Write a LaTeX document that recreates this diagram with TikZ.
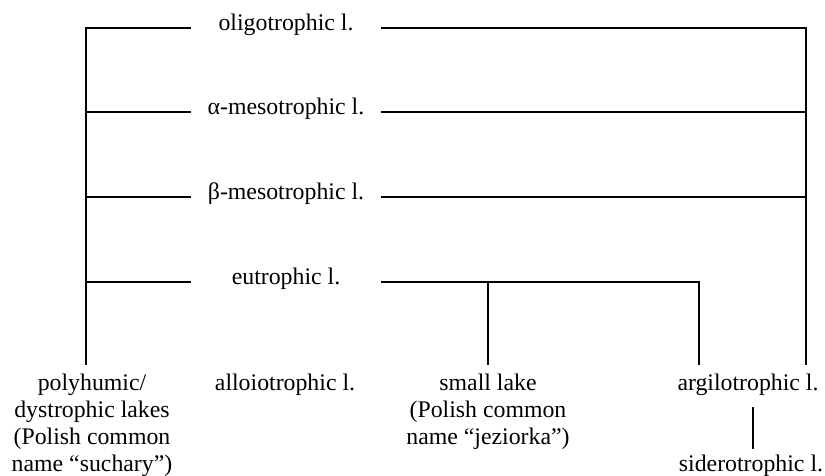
\documentclass[tikz,border=0pt]{standalone}
\usepackage{fontspec}
\setmainfont{Liberation Serif}
\tikzset{
  lbl/.style={inner sep=0pt, anchor=base, font=\fontsize{23.8}{27}\selectfont, align=center},
  ln/.style={line width=2pt, line cap=rect}
}
\begin{document}
\begin{tikzpicture}[x=1pt,y=-1pt]
\useasboundingbox (0,0) rectangle (825,475);
% text nodes
\node[lbl] (oligo) at (286,30) {oligotrophic l.};
\node[lbl] (alpha) at (286,114) {α-mesotrophic l.};
\node[lbl] (beta) at (286,199) {β-mesotrophic l.};
\node[lbl] (eu) at (286,284) {eutrophic l.};
\node[lbl] (poly) at (92,471) {polyhumic/\\dystrophic lakes\\(Polish common\\name “suchary”)};
\node[lbl] (allo) at (285,390) {alloiotrophic l.};
\node[lbl] (small) at (488,444) {small lake\\(Polish common\\name “jeziorka”)};
\node[lbl] (argil) at (748,390) {argilotrophic l.};
\node[lbl] (sider) at (751,471) {siderotrophic l.};
% coordinates
\coordinate (Ltop) at (86,28);
\coordinate (Lbot) at (86,364);
\coordinate (Rtop) at (806,28);
\coordinate (Rbot) at (806,364);
\coordinate (L1) at (190,28);   \coordinate (R1) at (382,28);
\coordinate (L2a) at (86,112);  \coordinate (L2) at (190,112);
\coordinate (R2) at (382,112);  \coordinate (R2b) at (806,112);
\coordinate (L3a) at (86,197);  \coordinate (L3) at (190,197);
\coordinate (R3) at (382,197);  \coordinate (R3b) at (806,197);
\coordinate (L4a) at (86,282);  \coordinate (L4) at (190,282);
\coordinate (R4) at (382,282);
\coordinate (S1) at (488,282);  \coordinate (S2) at (488,364);
\coordinate (A1) at (699,282);  \coordinate (A2) at (699,364);
\coordinate (D1) at (753,408);  \coordinate (D2) at (753,448);
% connectors
\draw[ln] (Lbot) -- (Ltop) -- (L1);
\draw[ln] (R1) -- (Rtop) -- (Rbot);
\draw[ln] (L2a) -- (L2);
\draw[ln] (R2) -- (R2b);
\draw[ln] (L3a) -- (L3);
\draw[ln] (R3) -- (R3b);
\draw[ln] (L4a) -- (L4);
\draw[ln] (R4) -- (A1) -- (A2);
\draw[ln] (S1) -- (S2);
\draw[ln] (D1) -- (D2);
\end{tikzpicture}
\end{document}
